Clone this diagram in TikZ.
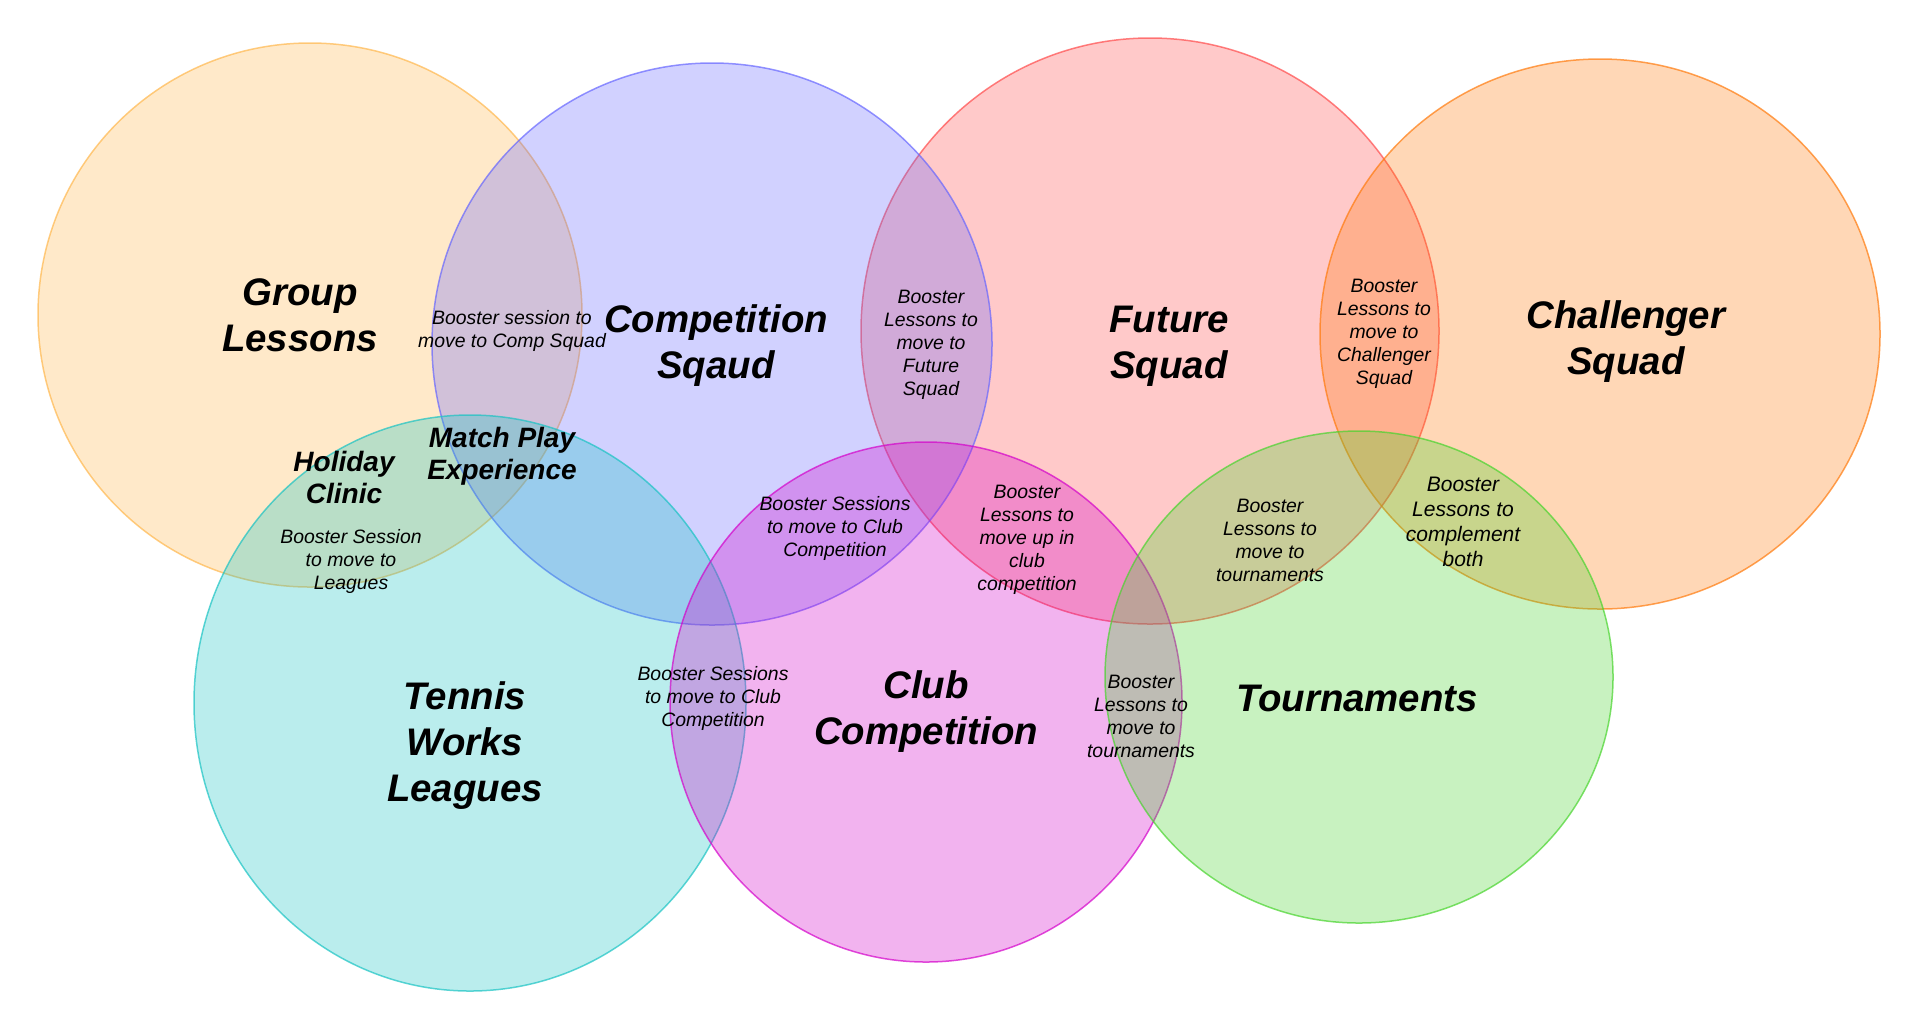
\documentclass[tikz,border=0pt]{standalone}
\usepackage{fontspec}
\setmainfont{Liberation Sans}

\definecolor{grpcol}{HTML}{FFB74D}
\definecolor{compcol}{HTML}{6666FF}
\definecolor{futcol}{HTML}{FF4B4B}
\definecolor{chalcol}{HTML}{FF7A0C}
\definecolor{leagcol}{HTML}{19C3C3}
\definecolor{clubcol}{HTML}{D402CA}
\definecolor{tourcol}{HTML}{48D42D}

\begin{document}
\begin{tikzpicture}[x=0.5pt,y=-0.5pt,
	venn/.style={line width=0.75pt, fill opacity=0.3, draw opacity=0.7},
	title/.style={align=center, inner sep=0pt, font=\fontsize{19.2}{23}\selectfont\bfseries\itshape},
	mid/.style={align=center, inner sep=0pt, font=\fontsize{14}{16}\selectfont\bfseries\itshape},
	note/.style={align=center, inner sep=0pt, font=\fontsize{9.7}{11.5}\selectfont\itshape}]

\useasboundingbox (0,0) rectangle (1920,1030);

% Top row of sets
\draw[venn, draw=grpcol, fill=grpcol] (310,315) ellipse (272 and 272);
\draw[venn, draw=futcol, fill=futcol] (1150,331) ellipse (289 and 293);
\draw[venn, draw=chalcol, fill=chalcol] (1600,334) ellipse (280 and 275);
\draw[venn, draw=compcol, fill=compcol] (712,344) ellipse (280 and 281);

% Bottom row of sets
\draw[venn, draw=leagcol, fill=leagcol] (470,703) ellipse (276 and 288);
\draw[venn, draw=clubcol, fill=clubcol] (926,702) ellipse (256 and 260);
\draw[venn, draw=tourcol, fill=tourcol] (1359,677) ellipse (254 and 246);

% Set names
\node[title] (group) at (300,315) {Group\\Lessons};
\node[title] (comp) at (716,346) {Competition\\Sqaud};
\node[title] (future) at (1169,346) {Future\\Squad};
\node[title] (chall) at (1626,342) {Challenger\\Squad};
\node[title] (leagues) at (465,746) {Tennis\\Works\\Leagues};
\node[title] (club) at (926,712) {Club\\Competition};
\node[title] (tourn) at (1357,698) {Tournaments};

% Overlaps
\node[mid] (holiday) at (344,477) {Holiday\\Clinic};
\node[mid] (match) at (502,456) {Match Play\\Experience};

\node[note] (grpcomp) at (512,331) {Booster session to\\move to Comp Squad};
\node[note] (compfut) at (931,345) {Booster\\Lessons to\\move to\\Future\\Squad};
\node[note] (futchal) at (1384,334) {Booster\\Lessons to\\move to\\Challenger\\Squad};
\node[note] (grpleag) at (351,561) {Booster Session\\to move to\\Leagues};
\node[note] (compclub) at (835,528) {Booster Sessions\\to move to Club\\Competition};
\node[note] (futclub) at (1027,540) {Booster\\Lessons to\\move up in\\club\\competition};
\node[note] (futtour) at (1270,540) {Booster\\Lessons to\\move to\\tournaments};
\node[note, font=\fontsize{10.5}{12.5}\selectfont\itshape] (chaltour) at (1463,522) {Booster\\Lessons to\\complement\\both};
\node[note] (leagclub) at (713,698) {Booster Sessions\\to move to Club\\Competition};
\node[note] (clubtour) at (1141,716) {Booster\\Lessons to\\move to\\tournaments};

\end{tikzpicture}
\end{document}
